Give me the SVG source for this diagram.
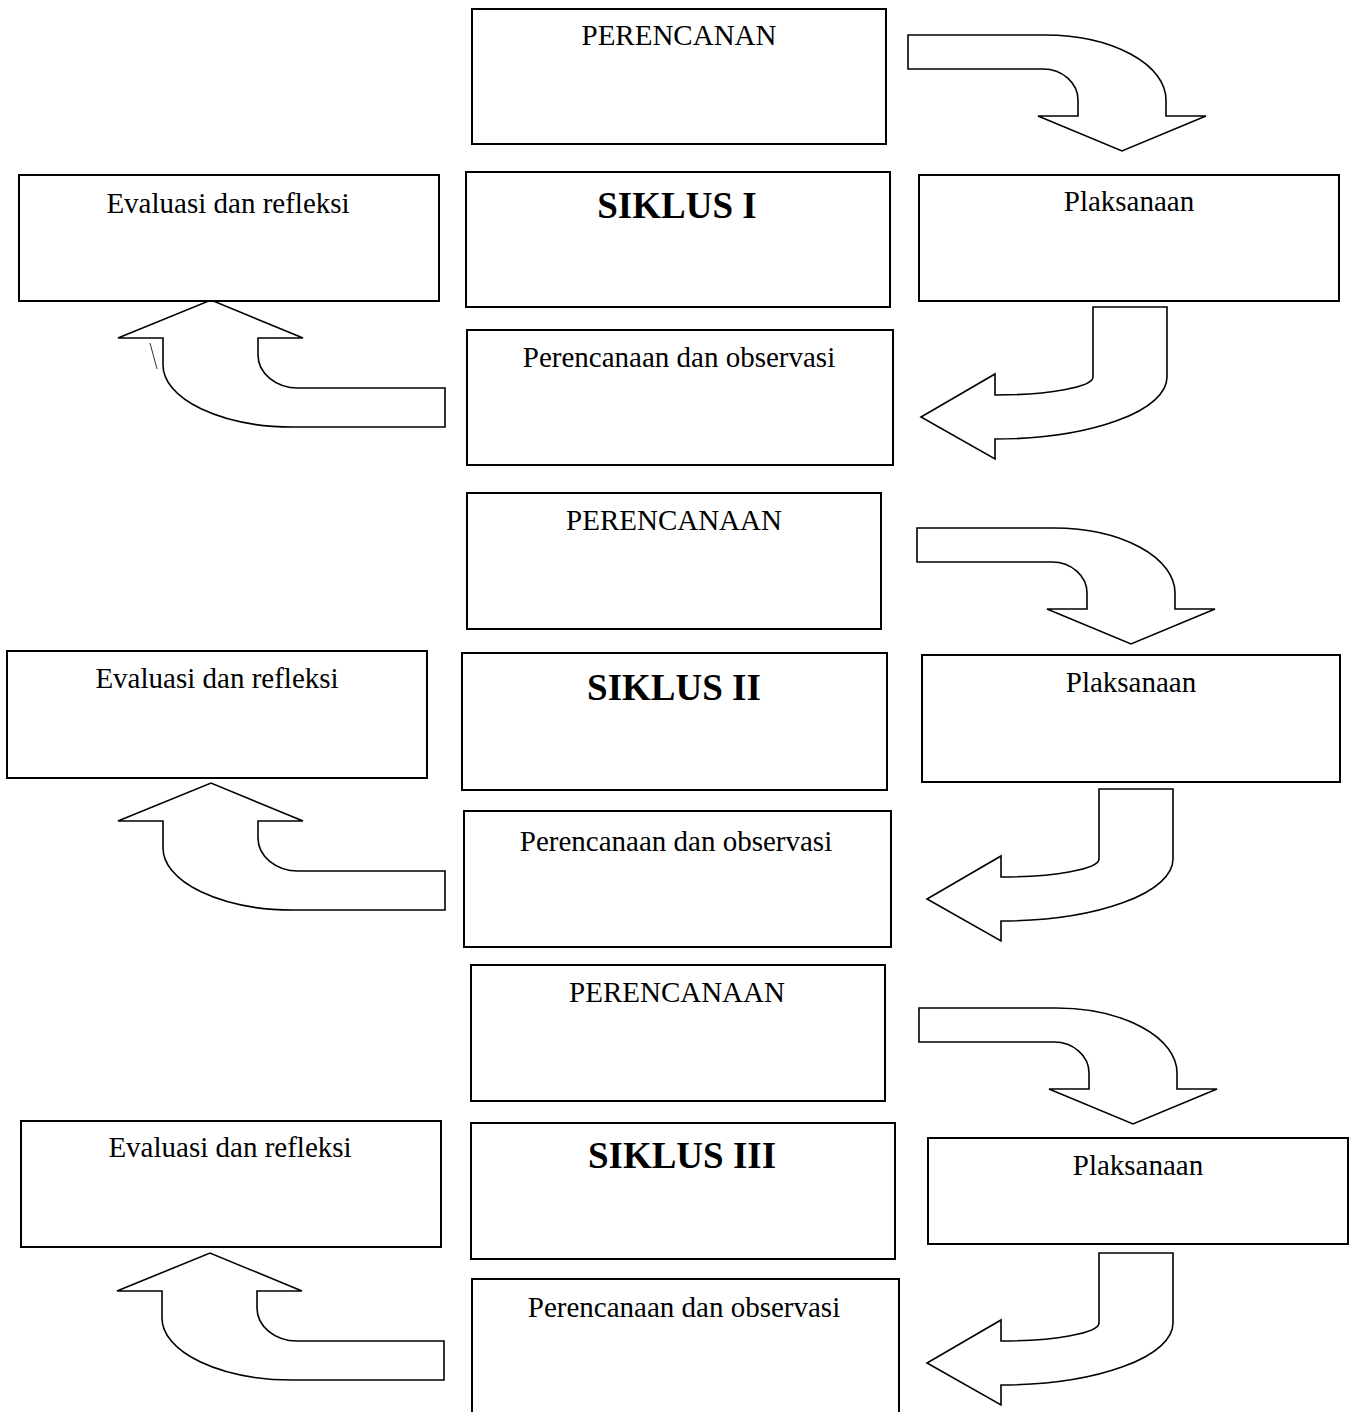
<svg xmlns="http://www.w3.org/2000/svg" xmlns:xlink="http://www.w3.org/1999/xlink" width="1356" height="1412" viewBox="0 0 1356 1412">
<style>
.box{fill:#fff;stroke:#000;stroke-width:2}
.arr{fill:#fff;stroke:#000;stroke-width:1.6;stroke-linejoin:miter}
.t{font-family:"Liberation Serif","Times New Roman",serif;font-size:29px;fill:#000;text-anchor:middle}
.b{font-family:"Liberation Serif","Times New Roman",serif;font-size:37px;font-weight:bold;fill:#000;text-anchor:middle}
</style>
<defs>
<path id="arrA" class="arr" d="M908,35 H1045 A121,65 0 0 1 1166,100 V116 H1206 L1122,151 L1038,116 H1078 V100 A35,31 0 0 0 1043,69 H908 Z"/>
<path id="arrB" class="arr" d="M1093,307 H1167 V377 A172,62 0 0 1 995,439 V459 L921,417 L995,374 V395 A98,18 0 0 0 1093,377 Z"/>
<path id="arrC" class="arr" d="M445,388 H298 A40,33 0 0 1 258,355 V338 H303 L211,300 L118,338 H163 V365 A130,62 0 0 0 293,427 H445 Z"/>
</defs>
<rect width="1356" height="1412" fill="#fff"/>
<g id="connectors">
<use xlink:href="#arrA"/>
<use xlink:href="#arrB"/>
<use xlink:href="#arrC"/>
<line x1="150" y1="343" x2="157" y2="369" stroke="#333" stroke-width="1"/>
<use xlink:href="#arrA" transform="translate(9,493)"/>
<use xlink:href="#arrB" transform="translate(6,482)"/>
<use xlink:href="#arrC" transform="translate(0,483)"/>
<use xlink:href="#arrA" transform="translate(11,973)"/>
<use xlink:href="#arrB" transform="translate(6,946)"/>
<use xlink:href="#arrC" transform="translate(-1,953)"/>
</g>
<g id="c1-perencanaan"><rect class="box" x="472" y="9" width="414" height="135"/><text class="t" x="679" y="45">PERENCANAN</text></g>
<g id="c1-evaluasi"><rect class="box" x="19" y="175" width="420" height="126"/><text class="t" x="228" y="213">Evaluasi dan refleksi</text></g>
<g id="c1-siklus"><rect class="box" x="466" y="172" width="424" height="135"/><text class="b" x="677" y="218">SIKLUS I</text></g>
<g id="c1-plaksanaan"><rect class="box" x="919" y="175" width="420" height="126"/><text class="t" x="1129" y="211">Plaksanaan</text></g>
<g id="c1-observasi"><rect class="box" x="467" y="330" width="426" height="135"/><text class="t" x="679" y="367">Perencanaan dan observasi</text></g>

<g id="c2-perencanaan"><rect class="box" x="467" y="493" width="414" height="136"/><text class="t" x="674" y="530">PERENCANAAN</text></g>
<g id="c2-evaluasi"><rect class="box" x="7" y="651" width="420" height="127"/><text class="t" x="217" y="688">Evaluasi dan refleksi</text></g>
<g id="c2-siklus"><rect class="box" x="462" y="653" width="425" height="137"/><text class="b" x="674" y="700">SIKLUS II</text></g>
<g id="c2-plaksanaan"><rect class="box" x="922" y="655" width="418" height="127"/><text class="t" x="1131" y="692">Plaksanaan</text></g>
<g id="c2-observasi"><rect class="box" x="464" y="811" width="427" height="136"/><text class="t" x="676" y="851">Perencanaan dan observasi</text></g>

<g id="c3-perencanaan"><rect class="box" x="471" y="965" width="414" height="136"/><text class="t" x="677" y="1002">PERENCANAAN</text></g>
<g id="c3-evaluasi"><rect class="box" x="21" y="1121" width="420" height="126"/><text class="t" x="230" y="1157">Evaluasi dan refleksi</text></g>
<g id="c3-siklus"><rect class="box" x="471" y="1123" width="424" height="136"/><text class="b" x="682" y="1168">SIKLUS III</text></g>
<g id="c3-plaksanaan"><rect class="box" x="928" y="1138" width="420" height="106"/><text class="t" x="1138" y="1175">Plaksanaan</text></g>
<g id="c3-observasi"><rect class="box" x="472" y="1279" width="427" height="160"/><text class="t" x="684" y="1317">Perencanaan dan observasi</text></g>
</svg>
